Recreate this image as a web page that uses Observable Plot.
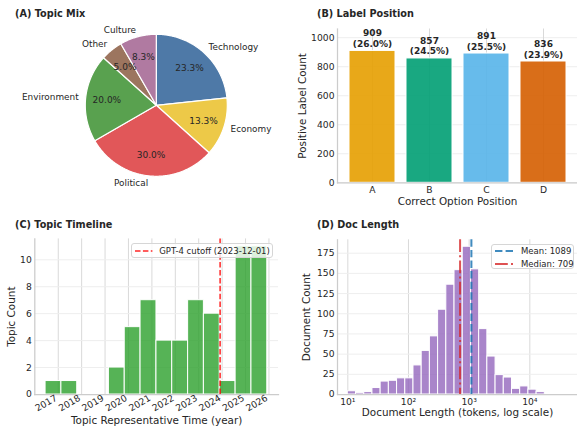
<!DOCTYPE html>
<html><head><meta charset="utf-8">
<script src="https://cdn.jsdelivr.net/npm/d3@7"></script>
<script src="https://cdn.jsdelivr.net/npm/@observablehq/plot@0.6"></script>
<style>
html,body{margin:0;padding:0;background:#fff;}
#root{position:relative;width:577px;height:427px;overflow:hidden;font-family:"DejaVu Sans",sans-serif;color:#262626;background:#fff;}
.panel{position:absolute;}
.title{position:absolute;font-weight:bold;font-size:9.7px;white-space:nowrap;transform:translateY(-50%);line-height:1.2;}
.legend{position:absolute;background:rgba(255,255,255,0.8);border:1px solid #d6d6d6;border-radius:3px;box-sizing:border-box;font-size:8.5px;}
.legend .row{position:absolute;white-space:nowrap;transform:translateY(-50%);line-height:1.2;}
.legend svg{position:absolute;}
</style></head><body><div id="root"></div>
<script>
// ---------- data ----------
const topics = ["Technology", "Economy", "Political", "Environment", "Other", "Culture"];
const topicCounts = [14, 8, 18, 12, 3, 5];
const topicColors = ["#4e79a7", "#edc948", "#e15759", "#59a14f", "#9c755f", "#b07aa1"];

const positions = ["A", "B", "C", "D"];
const positionCounts = [909, 857, 891, 836];
const positionColors = ["#E69F00", "#009E73", "#56B4E9", "#D55E00"];
const positionTicks = [0, 200, 400, 600, 800, 1000];

const timelineBinEdges = ["2016-06-17", "2017-02-19", "2017-10-24", "2018-06-28", "2019-03-02",
  "2019-11-04", "2020-07-08", "2021-03-13", "2021-11-14", "2022-07-20", "2023-03-23",
  "2023-11-25", "2024-07-30", "2025-04-03", "2025-12-06"];
const timelineCounts = [1, 1, 0, 0, 2, 5, 7, 4, 4, 7, 6, 1, 11, 11];
const timelineYears = [2017, 2018, 2019, 2020, 2021, 2022, 2023, 2024, 2025, 2026];
const timelineCountTicks = [0, 2, 4, 6, 8, 10];
const cutoffDate = "2023-12-01";

const docLengthBinEdges = [10, 13.65, 18.65, 25.46, 34.77, 47.48, 64.83, 88.54, 120.9, 165.1,
  225.4, 307.8, 420.4, 574.1, 784.0, 1070.6, 1462, 1996, 2726, 3722, 5082, 6940, 9476, 12940, 17670];
const docLengthCounts = [4, 2, 3, 8, 16, 17, 20, 20, 36, 54, 72, 105, 136, 154, 183, 155, 81, 47, 24, 21, 7, 10, 6, 3];
const docLengthTicks = [10, 100, 1000, 10000];
const docCountTicks = [0, 25, 50, 75, 100, 125, 150, 175];
const meanLength = 1089;
const medianLength = 709;

// ---------- helpers ----------
const root = document.getElementById("root");
function place(node, left, top, w, h) {
  const wrap = document.createElement("div");
  wrap.className = "panel";
  Object.assign(wrap.style, {left: left + "px", top: top + "px", width: w + "px", height: h + "px"});
  wrap.appendChild(node);
  root.appendChild(wrap);
  return wrap;
}
function title(text, left, top) {
  const d = document.createElement("div");
  d.className = "title";
  d.textContent = text;
  Object.assign(d.style, {left: left + "px", top: top + "px"});
  root.appendChild(d);
}
function legend(left, top, w, h, rows) {
  const box = document.createElement("div");
  box.className = "legend";
  Object.assign(box.style, {left: left + "px", top: top + "px", width: w + "px", height: h + "px"});
  rows.forEach(r => {
    const ns = "http://www.w3.org/2000/svg";
    const s = document.createElementNS(ns, "svg");
    s.setAttribute("width", 22); s.setAttribute("height", 6);
    Object.assign(s.style, {left: r.lx + "px", top: (r.cy - 3) + "px"});
    const l = document.createElementNS(ns, "line");
    l.setAttribute("x1", 0); l.setAttribute("x2", r.lw); l.setAttribute("y1", 3); l.setAttribute("y2", 3);
    l.setAttribute("stroke", r.color); l.setAttribute("stroke-width", r.sw);
    l.setAttribute("stroke-dasharray", r.dash); l.setAttribute("stroke-opacity", r.op);
    s.appendChild(l); box.appendChild(s);
    const t = document.createElement("div");
    t.className = "row"; t.textContent = r.text;
    Object.assign(t.style, {left: r.tx + "px", top: r.cy + "px"});
    box.appendChild(t);
  });
  root.appendChild(box);
}
const baseStyle = {fontFamily: '"DejaVu Sans", sans-serif', fontSize: "9.2px", color: "#262626", background: "transparent", overflow: "visible"};
const gridXc = "#d9d9d9", gridYc = "#eeeeee", spineC = "#cccccc";
const labelOpts = {fontSize: 10.4, lineAnchor: "middle", textAnchor: "middle", fill: "#262626"};

// ---------- (A) pie ----------
const total = d3.sum(topicCounts);
const arcs = d3.pie().sort(null)(topicCounts);
const slicePts = [];
arcs.forEach((a, i) => {
  const n = Math.max(2, Math.ceil((a.endAngle - a.startAngle) / 0.01));
  slicePts.push({topic: topics[i], x: 0, y: 0});
  for (let k = 0; k <= n; k++) {
    const t = a.startAngle + (a.endAngle - a.startAngle) * k / n;
    slicePts.push({topic: topics[i], x: Math.sin(t), y: Math.cos(t)});
  }
  slicePts.push({topic: topics[i], x: 0, y: 0});
});
const pieLabels = arcs.map((a, i) => {
  const m = (a.startAngle + a.endAngle) / 2;
  return {topic: topics[i], sx: Math.sin(m), cy: Math.cos(m), pct: (100 * topicCounts[i] / total).toFixed(1) + "%"};
});
const pie = Plot.plot({
  width: 290, height: 210, margin: 0,
  x: {domain: [-2.194, 1.890], range: [0, 290], axis: null},
  y: {domain: [-1.482, 1.476], range: [210, 0], axis: null},
  color: {domain: topics, range: topicColors},
  style: baseStyle,
  marks: [
    Plot.line(slicePts, {x: "x", y: "y", z: "topic", fill: "topic", stroke: "white", strokeWidth: 1.2, strokeLinejoin: "round"}),
    Plot.text(pieLabels.filter(d => d.sx >= 0), {x: d => 1.1 * d.sx, y: d => 1.1 * d.cy, text: "topic", textAnchor: "start", fontSize: 8.9, fill: "#262626"}),
    Plot.text(pieLabels.filter(d => d.sx < 0), {x: d => 1.1 * d.sx, y: d => 1.1 * d.cy, text: "topic", textAnchor: "end", fontSize: 8.9, fill: "#262626"}),
    Plot.text(pieLabels, {x: d => 0.7 * d.sx, y: d => 0.7 * d.cy, text: "pct", fontSize: 9, fill: "#262626"})
  ]
});
place(pie, 0, 0, 290, 210);
title("(A) Topic Mix", 15, 14);

// ---------- (B) bars ----------
const posTotal = d3.sum(positionCounts);
const posData = positions.map((p, i) => ({pos: p, count: positionCounts[i]}));
const bars = Plot.plot({
  width: 292, height: 210, marginLeft: 52, marginRight: 0, marginTop: 28.5, marginBottom: 27.7,
  x: {domain: positions, paddingInner: 0.2, paddingOuter: 0.19},
  y: {domain: [0, 1060]},
  color: {domain: positions, range: positionColors},
  style: baseStyle,
  marks: [
    Plot.gridY(positionTicks, {stroke: gridYc, strokeOpacity: 1}),
    Plot.gridX({stroke: gridXc, strokeOpacity: 1}),
    Plot.barY(posData, {x: "pos", y: "count", fill: "pos", fillOpacity: 0.9, stroke: "white", strokeWidth: 1}),
    Plot.text(posData, {x: "pos", y: "count", text: d => `${d.count}\n(${(100 * d.count / posTotal).toFixed(1)}%)`,
      lineAnchor: "bottom", dy: -4, fontWeight: "bold", fontSize: 9, lineHeight: 1.18, fill: "#262626"}),
    Plot.frame({anchor: "left", stroke: spineC, strokeWidth: 1.25}),
    Plot.frame({anchor: "bottom", stroke: spineC, strokeWidth: 1.25}),
    Plot.axisY(positionTicks, {tickSize: 0, tickPadding: 3, tickFormat: d3.format("d"), label: null}),
    Plot.axisX({tickSize: 0, tickPadding: 3.4, label: null}),
    Plot.text(["Positive Label Count"], {...labelOpts, text: d => d, frameAnchor: "left", dx: -35, rotate: -90}),
    Plot.text(["Correct Option Position"], {...labelOpts, text: d => d, frameAnchor: "bottom", dy: 18.7})
  ]
});
place(bars, 285, 0, 292, 210);
title("(B) Label Position", 317, 14);

// ---------- (C) timeline ----------
const tlRows = timelineCounts.map((c, i) => ({x1: new Date(timelineBinEdges[i]), x2: new Date(timelineBinEdges[i + 1]), y: c})).filter(d => d.y > 0);
const yearDates = timelineYears.map(y => new Date(Date.UTC(y, 0, 1)));
const timeline = Plot.plot({
  width: 290, height: 217, marginLeft: 34.3, marginRight: 12, marginTop: 28.4, marginBottom: 33,
  x: {type: "utc", domain: [new Date("2016-01-01"), new Date("2026-05-30")]},
  y: {domain: [0, 11.55]},
  style: baseStyle,
  marks: [
    Plot.gridX(yearDates, {stroke: gridXc, strokeOpacity: 1}),
    Plot.gridY(timelineCountTicks, {stroke: gridYc, strokeOpacity: 1}),
    Plot.rectY(tlRows, {x1: "x1", x2: "x2", y: "y", fill: "#2ca02c", fillOpacity: 0.8, stroke: "white", strokeWidth: 1}),
    Plot.ruleX([new Date(cutoffDate)], {stroke: "red", strokeOpacity: 0.85, strokeWidth: 1.5, strokeDasharray: "5.5,2.4"}),
    Plot.frame({anchor: "left", stroke: spineC, strokeWidth: 1.25}),
    Plot.frame({anchor: "bottom", stroke: spineC, strokeWidth: 1.25}),
    Plot.axisY(timelineCountTicks, {tickSize: 0, tickPadding: 3, label: null}),
    Plot.axisX(yearDates, {tickFormat: d => String(d.getUTCFullYear()), tickRotate: -30, textAnchor: "end", lineAnchor: "middle",
      tickSize: 0, tickPadding: 2.8, dx: -2, label: null}),
    Plot.text(["Topic Count"], {...labelOpts, text: d => d, frameAnchor: "left", dx: -23.3, rotate: -90}),
    Plot.text(["Topic Representative Time (year)"], {...labelOpts, text: d => d, frameAnchor: "bottom", dy: 26.3})
  ]
});
place(timeline, 0, 210, 290, 217);
title("(C) Topic Timeline", 15, 225);
legend(130.7, 242.7, 142.6, 15.6, [
  {lx: 3.6, lw: 17.4, cy: 7.8, color: "red", op: 0.85, sw: 1.5, dash: "5.5,2.4", tx: 27.6, text: "GPT-4 cutoff (2023-12-01)"}
]);

// ---------- (D) doc length ----------
const dlRows = docLengthCounts.map((c, i) => ({x1: docLengthBinEdges[i], x2: docLengthBinEdges[i + 1], y: c}));
const sup = {"1": "\u00b9", "2": "\u00b2", "3": "\u00b3", "4": "\u2074"};
const doclen = Plot.plot({
  width: 292, height: 217, marginLeft: 52, marginRight: 0, marginTop: 29.3, marginBottom: 33,
  x: {type: "log", domain: [Math.pow(10, 0.83), Math.pow(10, 4.786)]},
  y: {domain: [0, 191.6]},
  style: baseStyle,
  marks: [
    Plot.gridX(docLengthTicks, {stroke: gridXc, strokeOpacity: 1}),
    Plot.gridY(docCountTicks, {stroke: gridYc, strokeOpacity: 1}),
    Plot.rectY(dlRows, {x1: "x1", x2: "x2", y: "y", fill: "#9467bd", fillOpacity: 0.8, stroke: "white", strokeWidth: 1}),
    Plot.ruleX([medianLength], {stroke: "#d62728", strokeOpacity: 0.8, strokeWidth: 2, strokeDasharray: "12.8,3.2,2,3.2"}),
    Plot.ruleX([meanLength], {stroke: "#1f77b4", strokeOpacity: 0.85, strokeWidth: 2, strokeDasharray: "7.4,3.2"}),
    Plot.frame({anchor: "left", stroke: spineC, strokeWidth: 1.25}),
    Plot.frame({anchor: "bottom", stroke: spineC, strokeWidth: 1.25}),
    Plot.axisY(docCountTicks, {tickSize: 0, tickPadding: 3, label: null}),
    Plot.axisX(docLengthTicks, {tickFormat: d => "10" + sup[String(Math.round(Math.log10(d)))], tickSize: 0, tickPadding: 4, label: null}),
    Plot.text(["Document Count"], {...labelOpts, text: d => d, frameAnchor: "left", dx: -30.4, rotate: -90}),
    Plot.text(["Document Length (tokens, log scale)"], {...labelOpts, text: d => d, frameAnchor: "bottom", dy: 18.2})
  ]
});
place(doclen, 285, 210, 292, 217);
title("(D) Doc Length", 317, 225);
legend(490.7, 244.3, 83.6, 25, [
  {lx: 3.6, lw: 19, cy: 5.7, color: "#1f77b4", op: 0.85, sw: 2, dash: "7.4,3.2", tx: 29.3, text: "Mean: " + meanLength},
  {lx: 3.6, lw: 19, cy: 18.4, color: "#d62728", op: 0.8, sw: 2, dash: "12.8,3.2,2,3.2", tx: 29.3, text: "Median: " + medianLength}
]);
</script></body></html>
